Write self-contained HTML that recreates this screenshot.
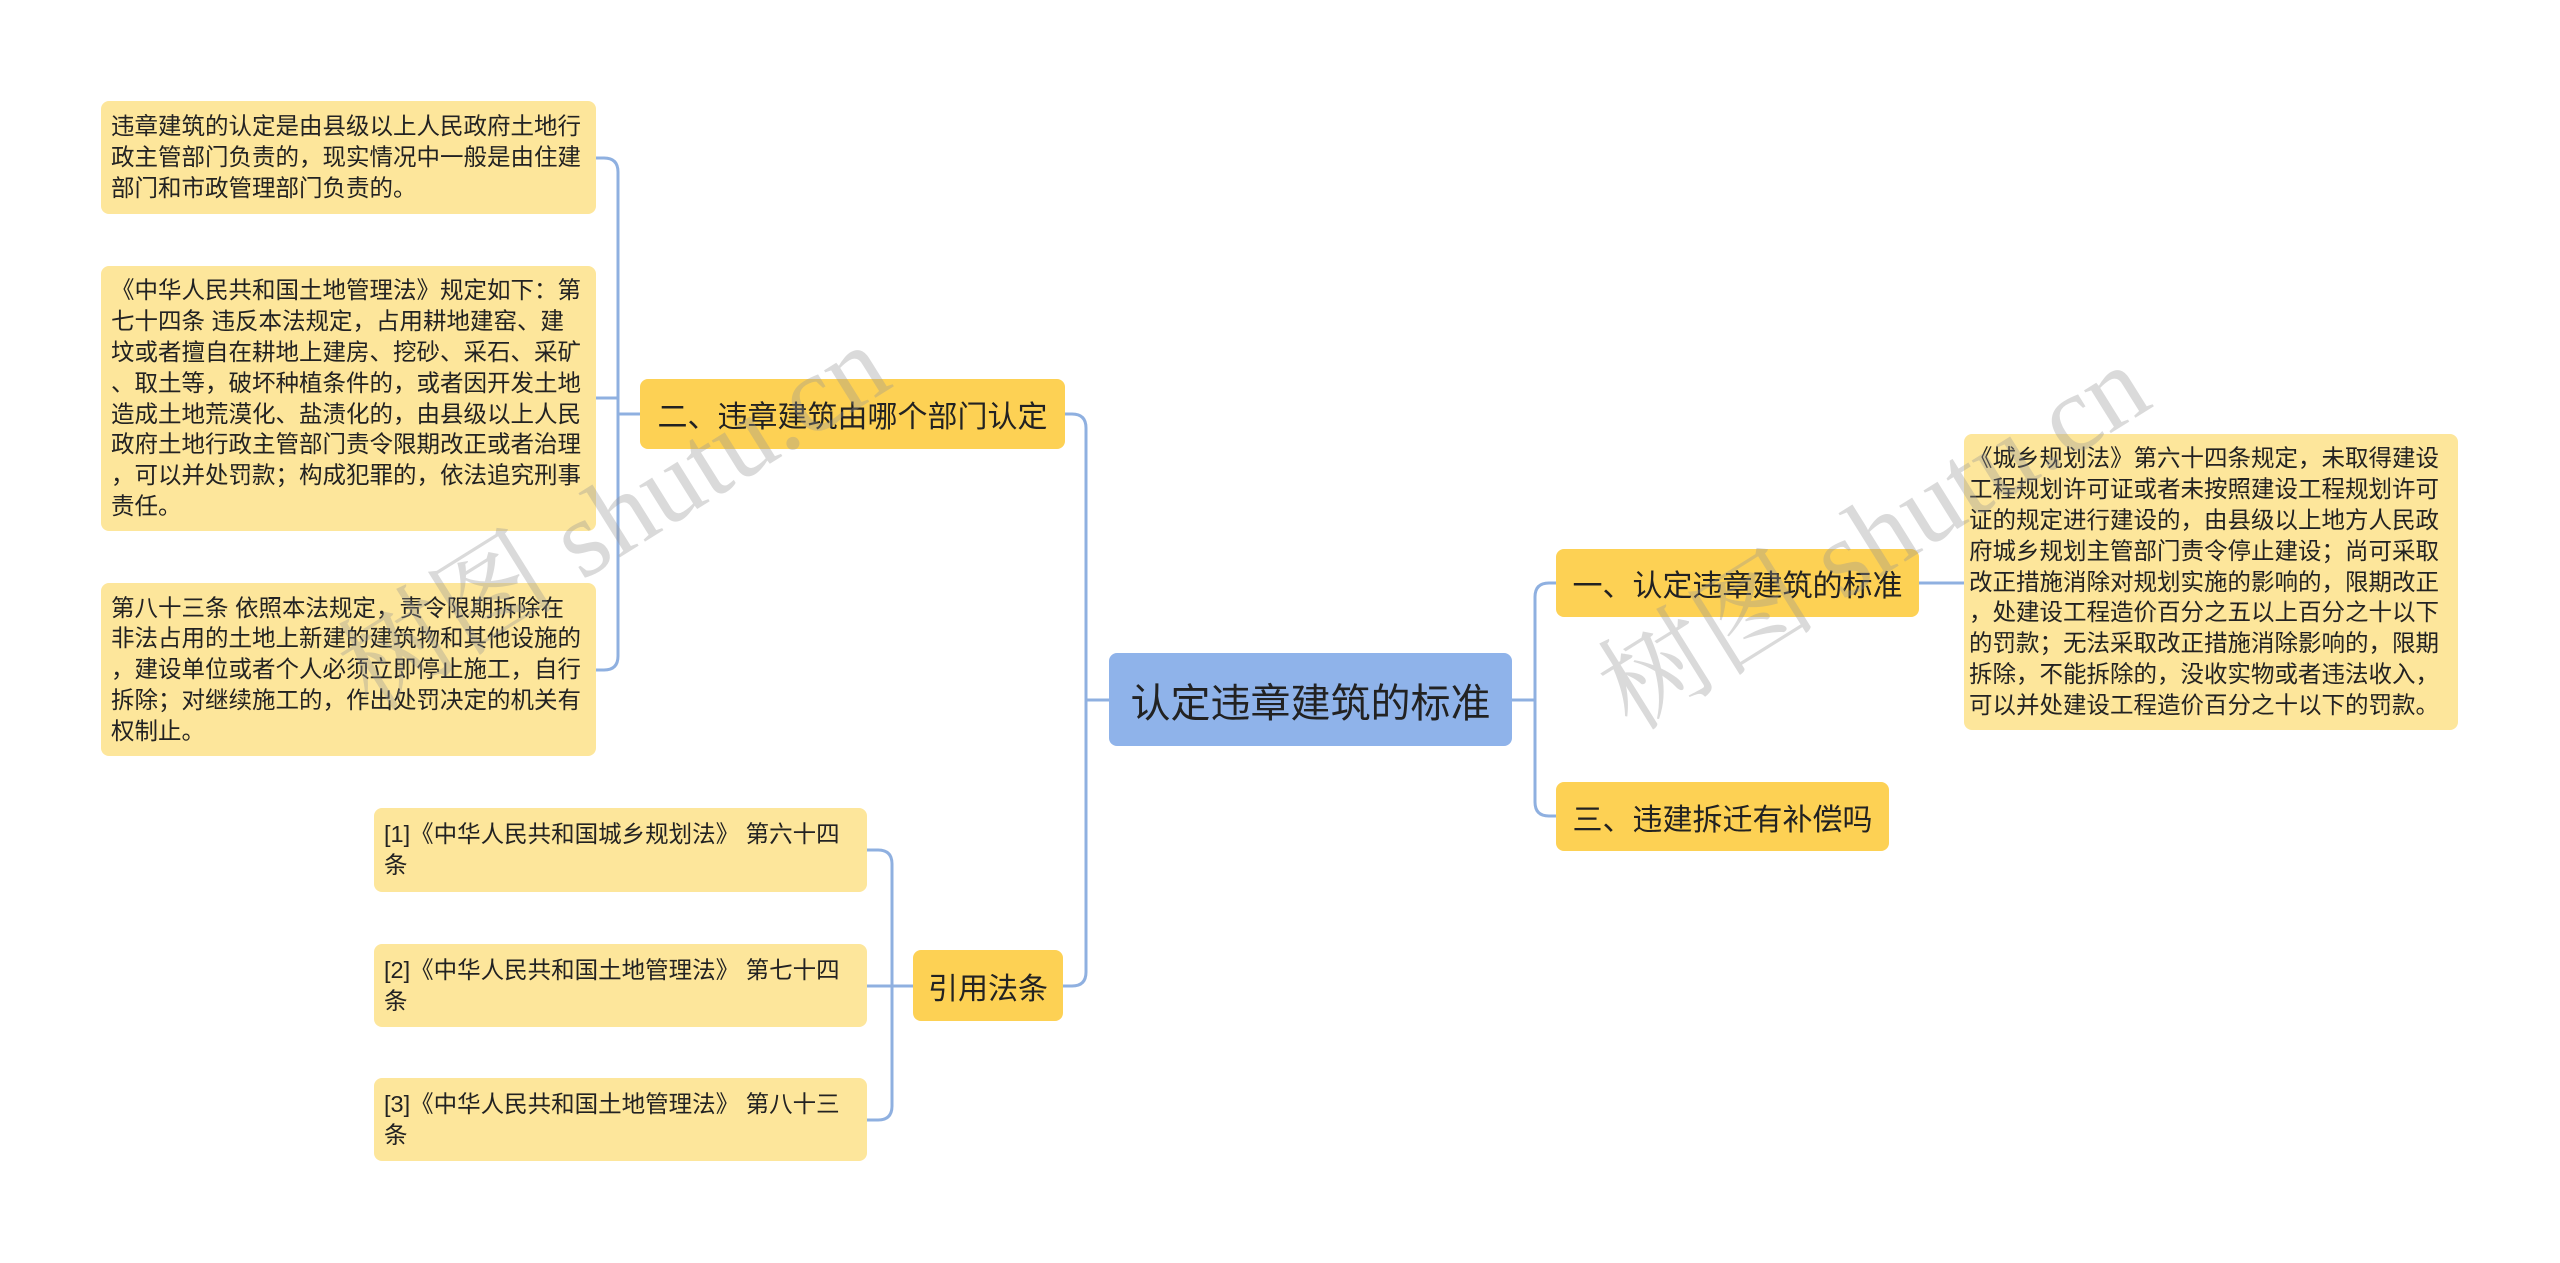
<!DOCTYPE html>
<html><head><meta charset="utf-8"><style>
body{margin:0;width:2560px;height:1263px;background:#fff;position:relative;overflow:hidden;font-family:"Liberation Sans","Noto Sans CJK SC",sans-serif;}
.n{position:absolute;box-sizing:border-box;border-radius:8px;color:#222;}
.leaf{background:#fde69b;font-size:23.5px;line-height:30.8px;padding:0 6px 0 10px;display:flex;align-items:center;white-space:nowrap;}
.sub{background:#fdd154;font-size:30px;display:flex;align-items:center;justify-content:center;white-space:nowrap;}
.main{background:#8fb3ea;font-size:40px;display:flex;align-items:center;justify-content:center;color:#222;white-space:nowrap;}
.wm{position:absolute;font-size:110px;color:rgba(150,150,150,0.35);transform:rotate(-32deg);font-family:"Liberation Serif","Noto Serif CJK SC",serif;white-space:nowrap;}
</style></head><body>
<svg width="2560" height="1263" style="position:absolute;left:0;top:0" fill="none" stroke="#8fb0e0" stroke-width="3">
<path d="M1109 700 H1086"/>
<path d="M1086 700 V428 Q1086 414 1072 414 H1065"/>
<path d="M1086 700 V972 Q1086 986 1072 986 H1063"/>
<path d="M1512 700 H1535"/>
<path d="M1535 700 V597 Q1535 583 1549 583 H1556"/>
<path d="M1535 700 V802 Q1535 816 1549 816 H1556"/>
<path d="M1919 583 H1964"/>
<path d="M640 414 H618"/>
<path d="M618 414 V172 Q618 158 604 158 H596"/>
<path d="M618 414 V656 Q618 670 604 670 H596"/>
<path d="M618 398 H596"/>
<path d="M913 986 H892"/>
<path d="M892 986 V864 Q892 850 878 850 H867"/>
<path d="M892 986 V1106 Q892 1120 878 1120 H867"/>
<path d="M892 986 H867"/>
</svg>
<div class="n leaf" style="left:101px;top:101px;width:495px;height:113px;">违章建筑的认定是由县级以上人民政府土地行<br>政主管部门负责的，现实情况中一般是由住建<br>部门和市政管理部门负责的。</div>
<div class="n leaf" style="left:101px;top:266px;width:495px;height:265px;">《中华人民共和国土地管理法》规定如下：第<br>七十四条 违反本法规定，占用耕地建窑、建<br>坟或者擅自在耕地上建房、挖砂、采石、采矿<br>、取土等，破坏种植条件的，或者因开发土地<br>造成土地荒漠化、盐渍化的，由县级以上人民<br>政府土地行政主管部门责令限期改正或者治理<br>，可以并处罚款；构成犯罪的，依法追究刑事<br>责任。</div>
<div class="n leaf" style="left:101px;top:583px;width:495px;height:173px;">第八十三条 依照本法规定，责令限期拆除在<br>非法占用的土地上新建的建筑物和其他设施的<br>，建设单位或者个人必须立即停止施工，自行<br>拆除；对继续施工的，作出处罚决定的机关有<br>权制止。</div>
<div class="n sub" style="left:640px;top:379px;width:425px;height:70px;">二、违章建筑由哪个部门认定</div>
<div class="n main" style="left:1109px;top:653px;width:403px;height:93px;">认定违章建筑的标准</div>
<div class="n sub" style="left:1556px;top:549px;width:363px;height:68px;">一、认定违章建筑的标准</div>
<div class="n sub" style="left:1556px;top:782px;width:333px;height:69px;">三、违建拆迁有补偿吗</div>
<div class="n leaf" style="left:1964px;top:434px;width:494px;height:296px;padding-left:5px;">《城乡规划法》第六十四条规定，未取得建设<br>工程规划许可证或者未按照建设工程规划许可<br>证的规定进行建设的，由县级以上地方人民政<br>府城乡规划主管部门责令停止建设；尚可采取<br>改正措施消除对规划实施的影响的，限期改正<br>，处建设工程造价百分之五以上百分之十以下<br>的罚款；无法采取改正措施消除影响的，限期<br>拆除，不能拆除的，没收实物或者违法收入，<br>可以并处建设工程造价百分之十以下的罚款。</div>
<div class="n sub" style="left:913px;top:950px;width:150px;height:71px;">引用法条</div>
<div class="n leaf" style="left:374px;top:808px;width:493px;height:84px;">[1]《中华人民共和国城乡规划法》 第六十四<br>条</div>
<div class="n leaf" style="left:374px;top:944px;width:493px;height:83px;">[2]《中华人民共和国土地管理法》 第七十四<br>条</div>
<div class="n leaf" style="left:374px;top:1078px;width:493px;height:83px;">[3]《中华人民共和国土地管理法》 第八十三<br>条</div>
<div class="wm" style="left:300px;top:430px;">树图 shutu.cn</div>
<div class="wm" style="left:1560px;top:450px;">树图 shutu.cn</div>
</body></html>
